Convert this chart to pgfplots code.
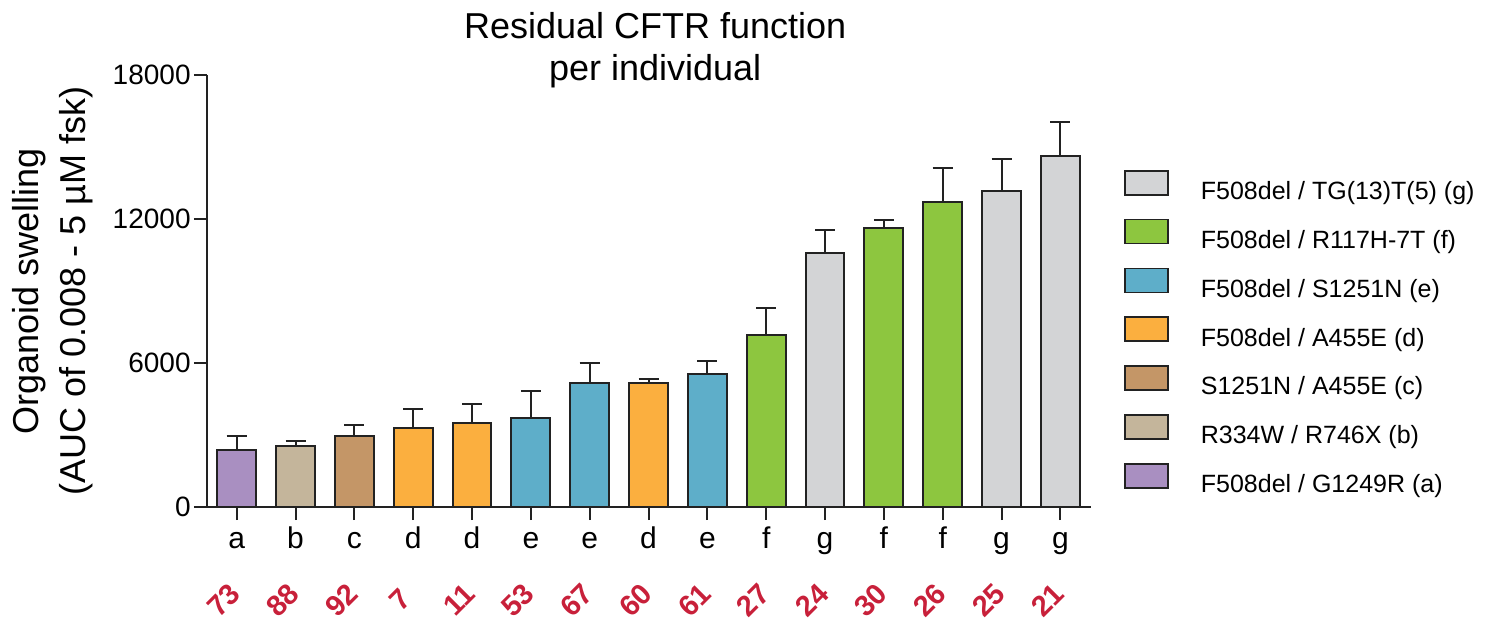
\documentclass[border=0pt]{standalone}
\usepackage{pgfplots}
\pgfplotsset{compat=1.18}
\usepackage{fontspec}
\setmainfont{Liberation Sans}
\definecolor{cg}{HTML}{D3D4D6}
\definecolor{cf}{HTML}{8DC63F}
\definecolor{ce}{HTML}{5EAEC9}
\definecolor{cd}{HTML}{FBAF3F}
\definecolor{cc}{HTML}{C49667}
\definecolor{cb}{HTML}{C4B59B}
\definecolor{ca}{HTML}{A98FC1}
\definecolor{cred}{HTML}{C8203A}
\definecolor{axc}{HTML}{222222}
\pgfplotsset{
  mybar/.style={ybar, bar shift=0pt, draw=axc, line width=1pt,
    error bars/.cd, y dir=plus, y explicit,
    error bar style={axc, line width=1pt},
    error mark options={rotate=90, mark size=5pt, axc, line width=1pt},
    /pgfplots/.cd,
    legend image code/.code={\draw[##1, draw=axc, line width=0.9pt] (0pt,-1.15pt) rectangle (21.3pt,10.85pt); \path (37.3pt,0pt);}
  }
}
\begin{document}
\begin{tikzpicture}
\useasboundingbox (-103.5pt,-58pt) rectangle (645.5pt,253.5pt);
\begin{axis}[
  at={(0,0)}, anchor=south west,
  width=442pt, height=216pt, scale only axis,
  clip=false,
  xmin=-0.505, xmax=14.52, ymin=0, ymax=18000,
  axis x line*=bottom, axis y line*=left,
  axis line style={axc, line width=1pt},
  bar width=0.66,
  xtick={0,...,14},
  xticklabels={a,b,c,d,d,e,e,d,e,f,g,f,f,g,g},
  ytick={0,6000,12000,18000},
  scaled y ticks=false,
  /pgf/number format/1000 sep={},
  /pgf/number format/assume math mode=true,
  tick align=outside, major tick length=6.5pt,
  tick style={axc, line width=1pt},
  yticklabel style={font=\fontsize{14}{14}\selectfont, inner sep=0pt, xshift=-1.5pt},
  xticklabel style={font=\fontsize{15}{15}\selectfont, inner sep=0pt, text height=11pt, text depth=0pt, yshift=-3pt},
  extra x ticks={0,...,14},
  extra x tick labels={73,88,92,7,11,53,67,60,61,27,24,30,26,25,21},
  extra x tick style={major tick length=0pt,
    xticklabel style={font=\bfseries\fontsize{14.5}{14.5}\selectfont, text=cred, anchor=center, text height=, text depth=, yshift=-43.5pt, xshift=-6.5pt, rotate=45}},
  title={Residual CFTR function\\per individual},
  title style={at={(axis description cs:0.507,1.029)}, anchor=center, align=center, inner sep=0pt, font=\fontsize{18}{21}\selectfont},
  ylabel={Organoid swelling\\(AUC of 0.008 - 5 µM fsk)},
  ylabel style={at={(axis description cs:-0.174,0.5)}, anchor=center, align=center, inner sep=0pt, font=\fontsize{18}{23.5}\selectfont},
  reverse legend,
  legend style={at={(axis description cs:1.0373,0.7817)}, anchor=north west, draw=none, fill=none, inner sep=0pt, row sep=6.65pt,
    nodes={inner sep=0pt, text height=10pt, text depth=3pt, font=\fontsize{12.5}{12.5}\selectfont}},
  legend cell align=left,
]
\addplot[mybar, fill=ca] coordinates {(0,2380) +- (0,560)};
\addlegendentry{F508del / G1249R (a)}
\addplot[mybar, fill=cb] coordinates {(1,2550) +- (0,210)};
\addlegendentry{R334W / R746X (b)}
\addplot[mybar, fill=cc] coordinates {(2,2950) +- (0,470)};
\addlegendentry{S1251N / A455E (c)}
\addplot[mybar, fill=cd] coordinates {(3,3310) +- (0,780) (4,3520) +- (0,770) (7,5150) +- (0,180)};
\addlegendentry{F508del / A455E (d)}
\addplot[mybar, fill=ce] coordinates {(5,3700) +- (0,1140) (6,5150) +- (0,850) (8,5530) +- (0,560)};
\addlegendentry{F508del / S1251N (e)}
\addplot[mybar, fill=cf] coordinates {(9,7160) +- (0,1140) (11,11640) +- (0,300) (12,12690) +- (0,1430)};
\addlegendentry{F508del / R117H-7T (f)}
\addplot[mybar, fill=cg] coordinates {(10,10600) +- (0,960) (13,13180) +- (0,1320) (14,14610) +- (0,1430)};
\addlegendentry{F508del / TG(13)T(5) (g)}
\end{axis}
\end{tikzpicture}
\end{document}
